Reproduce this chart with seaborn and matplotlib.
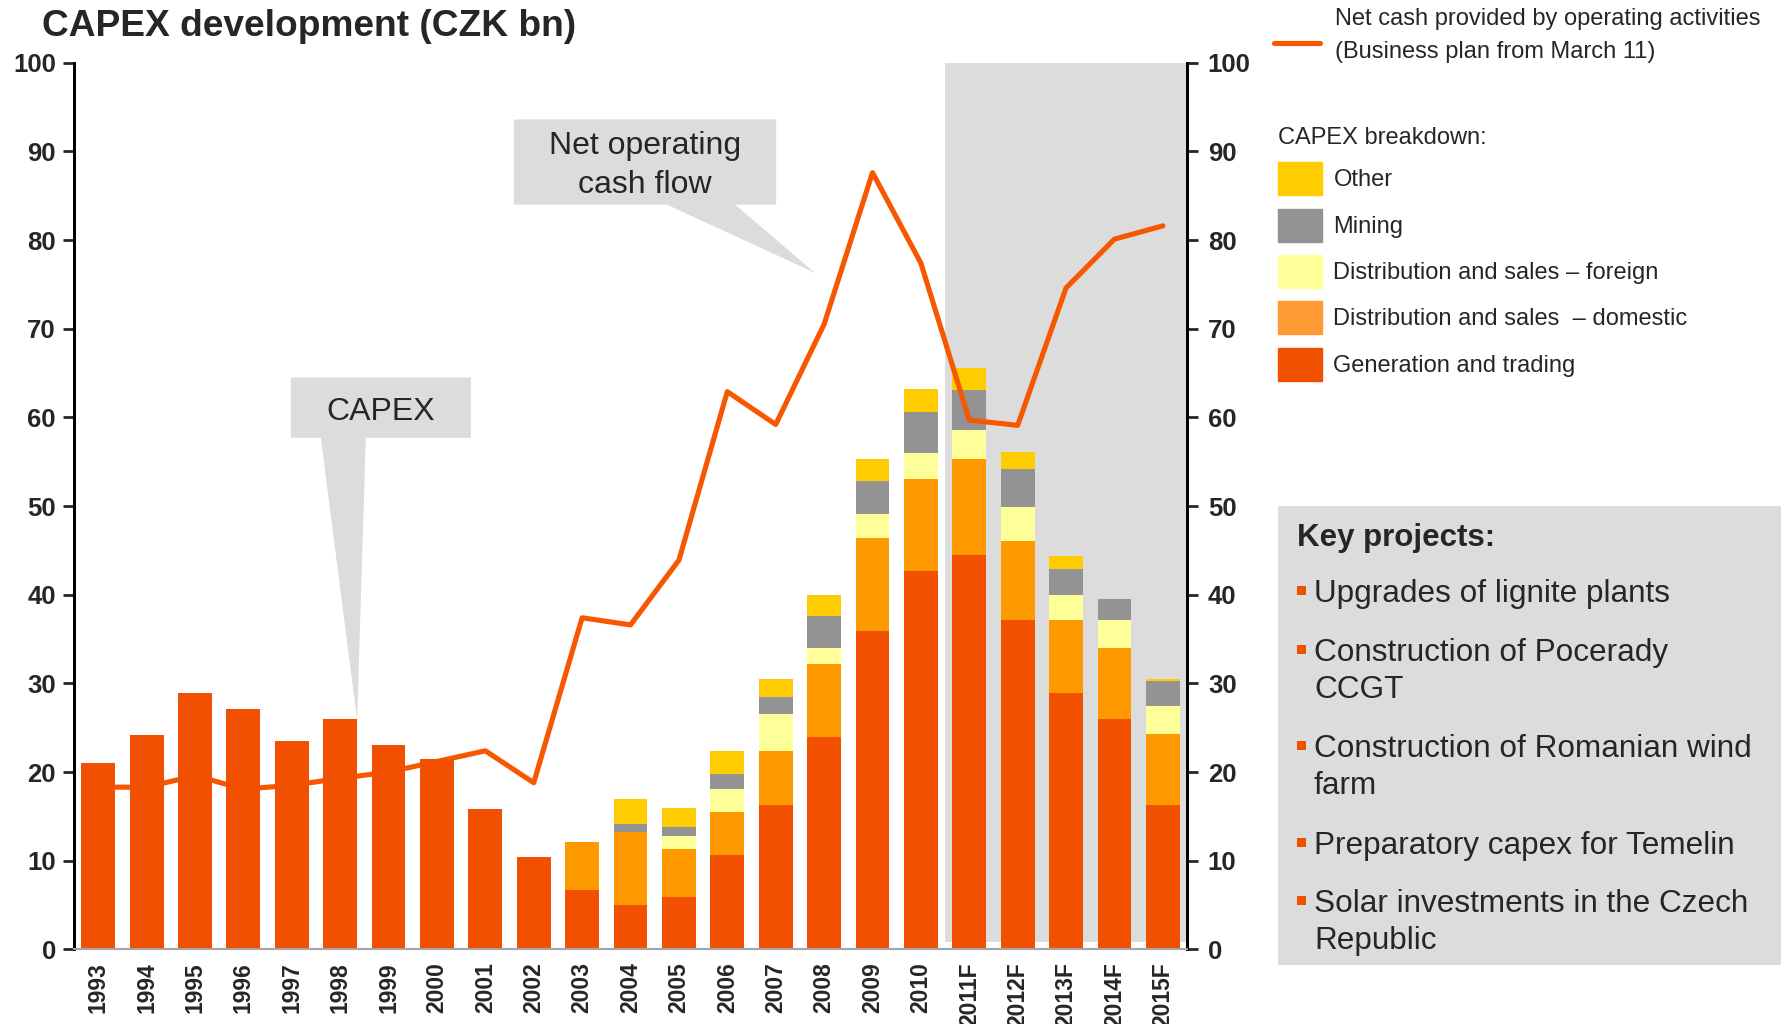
import numpy as np
import pandas as pd
import seaborn as sns
import matplotlib.pyplot as plt
from matplotlib.lines import Line2D
from matplotlib.patches import Patch, Rectangle

# data (CZK bn)
years = ["1993", "1994", "1995", "1996", "1997", "1998", "1999", "2000",
         "2001", "2002", "2003", "2004", "2005", "2006", "2007", "2008",
         "2009", "2010", "2011F", "2012F", "2013F", "2014F", "2015F"]
generation = [21.0, 24.2, 28.9, 27.1, 23.5, 26.0, 23.0, 21.5, 15.8, 10.4,
              6.7, 5.0, 5.9, 10.7, 16.3, 24.0, 35.9, 42.7, 44.5, 37.1,
              28.9, 26.0, 16.3]
domestic = [0, 0, 0, 0, 0, 0, 0, 0, 0, 0,
            5.4, 8.2, 5.4, 4.8, 6.1, 8.2, 10.45, 10.4, 10.8, 9.0,
            8.3, 8.0, 8.0]
foreign = [0, 0, 0, 0, 0, 0, 0, 0, 0, 0,
           0, 0, 1.5, 2.6, 4.15, 1.8, 2.7, 2.9, 3.3, 3.8,
           2.8, 3.15, 3.15]
mining = [0, 0, 0, 0, 0, 0, 0, 0, 0, 0,
          0, 1.0, 1.0, 1.7, 1.9, 3.6, 3.8, 4.6, 4.5, 4.3,
          2.95, 2.35, 2.8]
other = [0, 0, 0, 0, 0, 0, 0, 0, 0, 0,
         0, 2.8, 2.1, 2.6, 2.0, 2.35, 2.5, 2.6, 2.45, 1.9,
         1.45, 0, 0.2]
net_cash = [18.3, 18.3, 19.6, 18.1, 18.5, 19.3, 20.0, 21.2, 22.4, 18.8,
            37.4, 36.6, 43.9, 62.9, 59.2, 70.5, 87.6, 77.4, 59.7, 59.1,
            74.6, 80.1, 81.6]
forecast_start = "2011F"

line_label = ["Net cash provided by operating activities",
              "(Business plan from March 11)"]
key_projects = ["Upgrades of lignite plants",
                "Construction of Pocerady\nCCGT",
                "Construction of Romanian wind\nfarm",
                "Preparatory capex for Temelin",
                "Solar investments in the Czech\nRepublic"]

C_GEN = "#F05000"
C_DOM = "#FF9900"
C_FOR = "#FFFF99"
C_MIN = "#939393"
C_OTH = "#FFCC00"
C_LINE = "#F65700"
C_SHADE = "#DCDCDC"

sns.set_style("white")
plt.rcParams["font.family"] = ["Liberation Sans", "DejaVu Sans"]

df = pd.DataFrame({"year": years, "gen": generation, "dom": domestic,
                   "for": foreign, "min": mining, "oth": other})
df["pos"] = np.arange(len(df))
df["c_dom"] = df["gen"] + df["dom"]
df["c_for"] = df["c_dom"] + df["for"]
df["c_min"] = df["c_for"] + df["min"]
df["c_oth"] = df["c_min"] + df["oth"]

fig = plt.figure(figsize=(17.84, 10.24), dpi=100)
ax = fig.add_axes([0.04148, 0.0728, 0.6239, 0.8660])

# stacked bars drawn as overlaid cumulative totals
for col, color in [("c_oth", C_OTH), ("c_min", C_MIN), ("c_for", C_FOR),
                   ("c_dom", C_DOM), ("gen", C_GEN)]:
    sns.barplot(data=df, x="pos", y=col, color=color, saturation=1,
                width=0.7, linewidth=0, errorbar=None, ax=ax)

# historic bars sit above the line, forecast bars below it
split = years.index(forecast_start) - 0.5
for p in ax.patches:
    cx = p.get_x() + p.get_width() / 2
    p.set_zorder(2 if cx > split else 4)

ax.axvspan(split, len(years) - 0.5, ymin=0.008, ymax=1, color=C_SHADE,
           lw=0, zorder=0)

sns.lineplot(x=df["pos"], y=net_cash, color=C_LINE, linewidth=3.7, ax=ax,
             zorder=3)

# callouts
ax.fill([8.59, 14.01, 14.01, 13.16, 14.81, 11.75, 8.59],
        [93.6, 93.6, 84.0, 84.0, 76.3, 84.0, 84.0],
        color=C_SHADE, lw=0, zorder=1)
ax.text(11.3, 88.4, "Net operating\ncash flow", ha="center", va="center",
        fontsize=23, linespacing=1.4, zorder=5)
ax.fill([3.98, 7.70, 7.70, 5.53, 5.35, 4.60, 3.98],
        [64.5, 64.5, 57.7, 57.7, 25.9, 57.7, 57.7],
        color=C_SHADE, lw=0, zorder=1)
ax.text(5.84, 60.6, "CAPEX", ha="center", va="center", fontsize=23,
        zorder=5)

ax.set_xlim(-0.5, len(years) - 0.5)
ax.set_ylim(0, 100)
ax.set_xlabel("")
ax.set_ylabel("")
ax.set_xticks(df["pos"], years, rotation=90, fontweight="bold",
              fontsize=16.5)
ax.set_xticks(np.arange(-0.5, len(years)), minor=True)
ax.tick_params(axis="x", which="major", length=0, pad=9)
ax.tick_params(axis="x", which="minor", length=8, width=1.3,
               color="#A6A6A6")
yt = np.arange(0, 101, 10)
ax.set_yticks(yt, [str(v) for v in yt], fontweight="bold", fontsize=18.5)
ax.tick_params(axis="y", length=8, width=2, direction="out", pad=5,
               left=True)

ax2 = ax.twinx()
ax2.set_ylim(0, 100)
ax2.set_yticks(yt, [str(v) for v in yt], fontweight="bold", fontsize=18.5)
ax2.tick_params(axis="y", length=8, width=2, direction="out", pad=7)

for a in (ax, ax2):
    a.spines["top"].set_visible(False)
    a.spines["left"].set_linewidth(2)
    a.spines["right"].set_linewidth(2)
    a.spines["left"].set_color("black")
    a.spines["right"].set_color("black")
    a.spines["bottom"].set_color("#A6A6A6")
    a.spines["bottom"].set_linewidth(1.5)

fig.text(42 / 1784, 1 - 36 / 1024, "CAPEX development (CZK bn)",
         fontsize=26.7, fontweight="bold", va="baseline")

# line legend
fig.add_artist(Line2D([1274 / 1784, 1320 / 1784],
                      [1 - 43 / 1024, 1 - 43 / 1024], color=C_LINE, lw=3.7,
                      transform=fig.transFigure))
for k, txt in enumerate(line_label):
    fig.text(1335 / 1784, 1 - (25 + 33 * k) / 1024, txt, fontsize=17,
             va="baseline")

# breakdown legend
handles = [Patch(color=c) for c in (C_OTH, C_MIN, C_FOR, "#FF9933", C_GEN)]
labels = ["Other", "Mining", "Distribution and sales \u2013 foreign",
          "Distribution and sales  \u2013 domestic", "Generation and trading"]
fig.legend(handles, labels, title="CAPEX breakdown:", alignment="left",
           title_fontsize=17, loc="upper left",
           bbox_to_anchor=(1278 / 1784, 1 - 127 / 1024), frameon=False,
           fontsize=17, handlelength=1.85, handleheight=1.78,
           handletextpad=0.5, labelspacing=0.56, borderpad=0,
           borderaxespad=0)

# key projects box
fig.patches.append(Rectangle((1278 / 1784, 1 - 965 / 1024), 503 / 1784,
                             459 / 1024, transform=fig.transFigure,
                             color=C_SHADE, lw=0, zorder=0))
fig.text(1297 / 1784, 1 - 546 / 1024, "Key projects:", fontsize=22.5,
         fontweight="bold", va="baseline")
baselines = [602, 661, 757, 854, 912]
for item, base in zip(key_projects, baselines):
    for k, line in enumerate(item.split("\n")):
        fig.text(1314 / 1784, 1 - (base + 37 * k) / 1024, line,
                 fontsize=22.7, va="baseline")
    fig.patches.append(Rectangle((1297 / 1784, 1 - (base - 7) / 1024),
                                 9 / 1784, 9 / 1024,
                                 transform=fig.transFigure, color=C_GEN,
                                 lw=0, zorder=1))

fig.savefig("out.png", dpi=100)
